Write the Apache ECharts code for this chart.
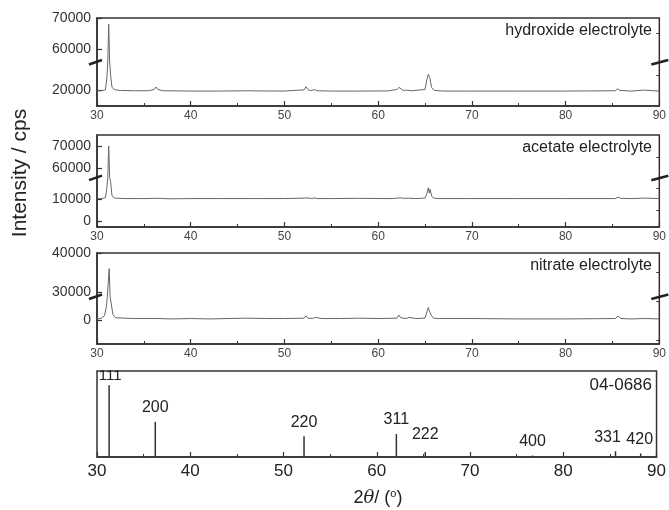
<!DOCTYPE html>
<html><head><meta charset="utf-8">
<script src="https://cdn.jsdelivr.net/npm/echarts@6/dist/echarts.min.js"></script>
<style>html,body{margin:0;padding:0;background:#fff}#c{width:669px;height:510px}</style>
</head><body><div id="c"></div>
<script>
// ---------- DATA ----------
const hydroxideTheta = [30.0,30.5,30.9,31.05,31.15,31.25,31.35,31.45,31.6,31.9,32.5,34.0,35.5,36.1,36.3,36.5,37.0,40.0,43.0,46.3,46.5,46.8,50.0,52.1,52.3,52.5,52.8,53.2,53.5,55.0,58.0,61.0,62.0,62.2,62.4,62.7,63.1,63.5,65.0,65.2,65.35,65.5,65.7,66.0,67.0,70.0,75.0,80.0,85.3,85.55,85.8,87.0,88.3,88.5,90.0];
const hydroxideCounts = [19900,19900,20200,24000,45000,68000,42000,25000,21000,20200,20000,19900,19900,20300,21100,20300,19900,19800,19800,19900,20100,19850,19800,20200,21200,20300,19900,20300,19900,19800,19800,19850,20300,21000,20400,20000,20100,19900,20300,23500,25200,24200,21000,20000,19800,19800,19800,19800,19900,20500,20000,19800,20100,19900,19800];

const acetateTheta = [30.0,30.5,30.9,31.05,31.15,31.25,31.35,31.45,31.6,31.9,33.0,35.0,36.1,36.3,36.5,37.0,38.0,40.0,43.0,46.3,46.5,47.0,50.0,52.1,52.3,52.5,52.9,53.2,53.5,55.0,58.0,60.5,61.5,62.0,62.2,62.4,62.8,63.2,64.0,65.0,65.2,65.35,65.45,65.55,65.7,65.9,66.5,70.0,75.0,80.0,85.3,85.6,85.9,87.0,88.5,90.0];
const acetateCounts = [10300,10300,10700,15000,40000,70000,45000,18000,11500,10500,10300,10300,10400,10800,10400,10300,10200,10300,10300,10300,10600,10300,10300,10500,11200,10600,10300,10600,10300,10300,10400,10300,10300,10500,11300,10600,10400,10500,10300,10500,12500,15200,12800,14500,11500,10500,10300,10300,10300,10300,10300,10900,10400,10300,10500,10300];

const nitrateTheta = [30.0,30.4,30.8,31.0,31.1,31.2,31.3,31.4,31.5,31.7,32.0,34.0,36.1,36.3,36.5,38.0,40.0,42.0,44.0,46.0,48.0,50.0,52.1,52.3,52.5,53.0,53.3,54.0,56.0,58.0,60.0,62.0,62.2,62.4,63.0,63.3,64.0,65.0,65.2,65.35,65.45,65.55,65.7,65.9,66.5,70.0,75.0,80.0,85.3,85.6,85.9,87.0,88.5,90.0];
const nitrateCounts = [400,500,1200,3500,8000,20000,36000,16000,6000,1500,700,500,500,1000,500,400,500,400,500,600,500,500,600,1200,600,500,800,500,500,600,500,600,1400,700,500,800,500,600,2200,3300,2500,3000,1200,600,500,500,400,400,500,1100,500,400,500,400];

const pdfTheta = [31.3, 36.25, 52.2, 62.1, 65.2, 76.7, 85.6, 88.3];
const pdfIntensity = [100, 49, 29, 32, 7, 2, 8, 5];
const pdfHkl = ['111','200','220','311','222','400','331','420'];

const panelNames = ['hydroxide electrolyte','acetate electrolyte','nitrate electrolyte'];
const pdfCard = '04-0686';

const yLabels = [[20000,60000,70000],[0,10000,60000,70000],[0,30000,40000]];
const yMinorTicks = [[25000,65000],[5000,15000,65000],[-5000,5000,35000]];
const yRange = [[15000,70000],[-2500,75000],[-6000,40000]];
const yBreaks = [[29000,56000],[19500,56000],[6000,29000]];
const xTicks = [30,40,50,60,70,80,90];

// ---------- STYLE ----------
const FONT = '"Liberation Sans", Arial, sans-serif';
const gridPos = [{top:18,height:88},{top:135,height:92},{top:253,height:91},{top:371,height:86}];
const labelStyle = {'111':{offset:[1,4],fontSize:15},'331':{offset:[-8,0]},'420':{offset:[-1,0]},'222':{offset:[0,-3]}};

const chart = echarts.init(document.getElementById('c'), null, {renderer:'canvas'});
const grids = gridPos.map(g => ({left:97, right:9, top:g.top, height:g.height, show:true, borderColor:'#333', borderWidth:1.5, backgroundColor:'transparent'}));

const xAxes = [], yAxes = [], series = [];
const sets = [[hydroxideTheta,hydroxideCounts],[acetateTheta,acetateCounts],[nitrateTheta,nitrateCounts]];
for (let i=0;i<4;i++){
  const bottom = i===3;
  xAxes.push({type:'value', gridIndex:i, min:xTicks[0], max:xTicks[xTicks.length-1], interval:10,
    axisLine:{show:true,onZero:false,lineStyle:{color:'#333',width:1.5}},
    axisTick:{inside:true,length:5,lineStyle:{color:'#333',width:1.2}},
    minorTick:{show:true,splitNumber:2,length:3,lineStyle:{color:'#333',width:1}},
    axisLabel:{fontFamily:FONT,fontSize:bottom?17:12,color:bottom?'#222':'#444',margin:bottom?6:4},
    splitLine:{show:false}});
}
const fmt = v => String(Math.round(v));
for (let i=0;i<3;i++){
  yAxes.push({type:'value', gridIndex:i, min:yRange[i][0], max:yRange[i][1],
    breaks:[{start:yBreaks[i][0], end:yBreaks[i][1], gap:'1%'}],
    breakArea:{show:false}, splitLine:{show:false},
    axisLine:{show:true,onZero:false,lineStyle:{color:'#333',width:1.5}},
    axisTick:{inside:true,length:5,customValues:yLabels[i],lineStyle:{color:'#333',width:1.2}},
    axisLabel:{customValues:yLabels[i],formatter:fmt,fontFamily:FONT,fontSize:14,color:'#333',margin:6}
  });
}
yAxes.push({type:'value', gridIndex:3, min:0, max:120, show:false});
for (let i=0;i<3;i++){
  yAxes.push({type:'value', gridIndex:i, min:yRange[i][0], max:yRange[i][1],
    breaks:[{start:yBreaks[i][0], end:yBreaks[i][1], gap:'1%'}],
    breakArea:{show:false}, splitLine:{show:false},
    axisLine:{show:false,onZero:false}, axisLabel:{show:false},
    axisTick:{inside:true,length:3,customValues:yMinorTicks[i],lineStyle:{color:'#333',width:1}}});
}
for (let i=0;i<3;i++){
  series.push({type:'line', xAxisIndex:i, yAxisIndex:i, symbol:'none', animation:false,
    lineStyle:{color:'#666',width:1}, clip:true,
    data: sets[i][0].map((t,j)=>[t, sets[i][1][j]])});
}
series.push({type:'bar', xAxisIndex:3, yAxisIndex:3, barWidth:1.5, animation:false,
  itemStyle:{color:'#333'},
  label:{show:true, position:'top', distance:6, fontFamily:FONT, fontSize:16, color:'#222',
    formatter: p => pdfHkl[p.dataIndex]},
  data: pdfTheta.map((t,j)=>({value:[t, pdfIntensity[j]],
    label: labelStyle[pdfHkl[j]] || {}}))});

const texts = [];
panelNames.forEach((n,i)=>{
  texts.push({type:'text', right:17, top:gridPos[i].top+5, style:{text:n, font:'16px '+FONT, fill:'#222'}});
});
texts.push({type:'text', right:17, top:gridPos[3].top+6, style:{text:pdfCard, font:'17px '+FONT, fill:'#222'}});
texts.push({type:'text', x:20, y:173, rotation:Math.PI/2, style:{text:'Intensity / cps', font:'21px '+FONT, fill:'#222', align:'center', verticalAlign:'middle'}});
texts.push({type:'text', x:378, y:498, style:{
  text:'{n|2}{t|θ}{n|/ (}{s|o}{n|)}',
  align:'center', verticalAlign:'middle',
  rich:{n:{font:'18px '+FONT, fill:'#222'}, t:{font:'italic 18px "DejaVu Serif", serif', fill:'#222'}, s:{font:'11px '+FONT, fill:'#222', verticalAlign:'top', padding:[0,0,8,0]}}}});

chart.setOption({animation:false, grid:grids, xAxis:xAxes, yAxis:yAxes, series:series, graphic:texts});

const marks = [];
for (let i=0;i<3;i++){
  const y1 = chart.convertToPixel({yAxisIndex:i}, yBreaks[i][0]);
  const y2 = chart.convertToPixel({yAxisIndex:i}, yBreaks[i][1]);
  const yb = (y1+y2)/2;
  const xl = chart.convertToPixel({xAxisIndex:i}, xTicks[0]);
  const xr = chart.convertToPixel({xAxisIndex:i}, xTicks[xTicks.length-1]);
  [xl, xr].forEach((px, k)=>{
    marks.push({type:'line', z:100, shape:{x1:px-8, y1:yb+2.5, x2:px+(k?9:5), y2:yb-2},
      style:{stroke:'#222', lineWidth:2.5}});
  });
}
chart.setOption({graphic: texts.concat(marks)});
</script></body></html>
